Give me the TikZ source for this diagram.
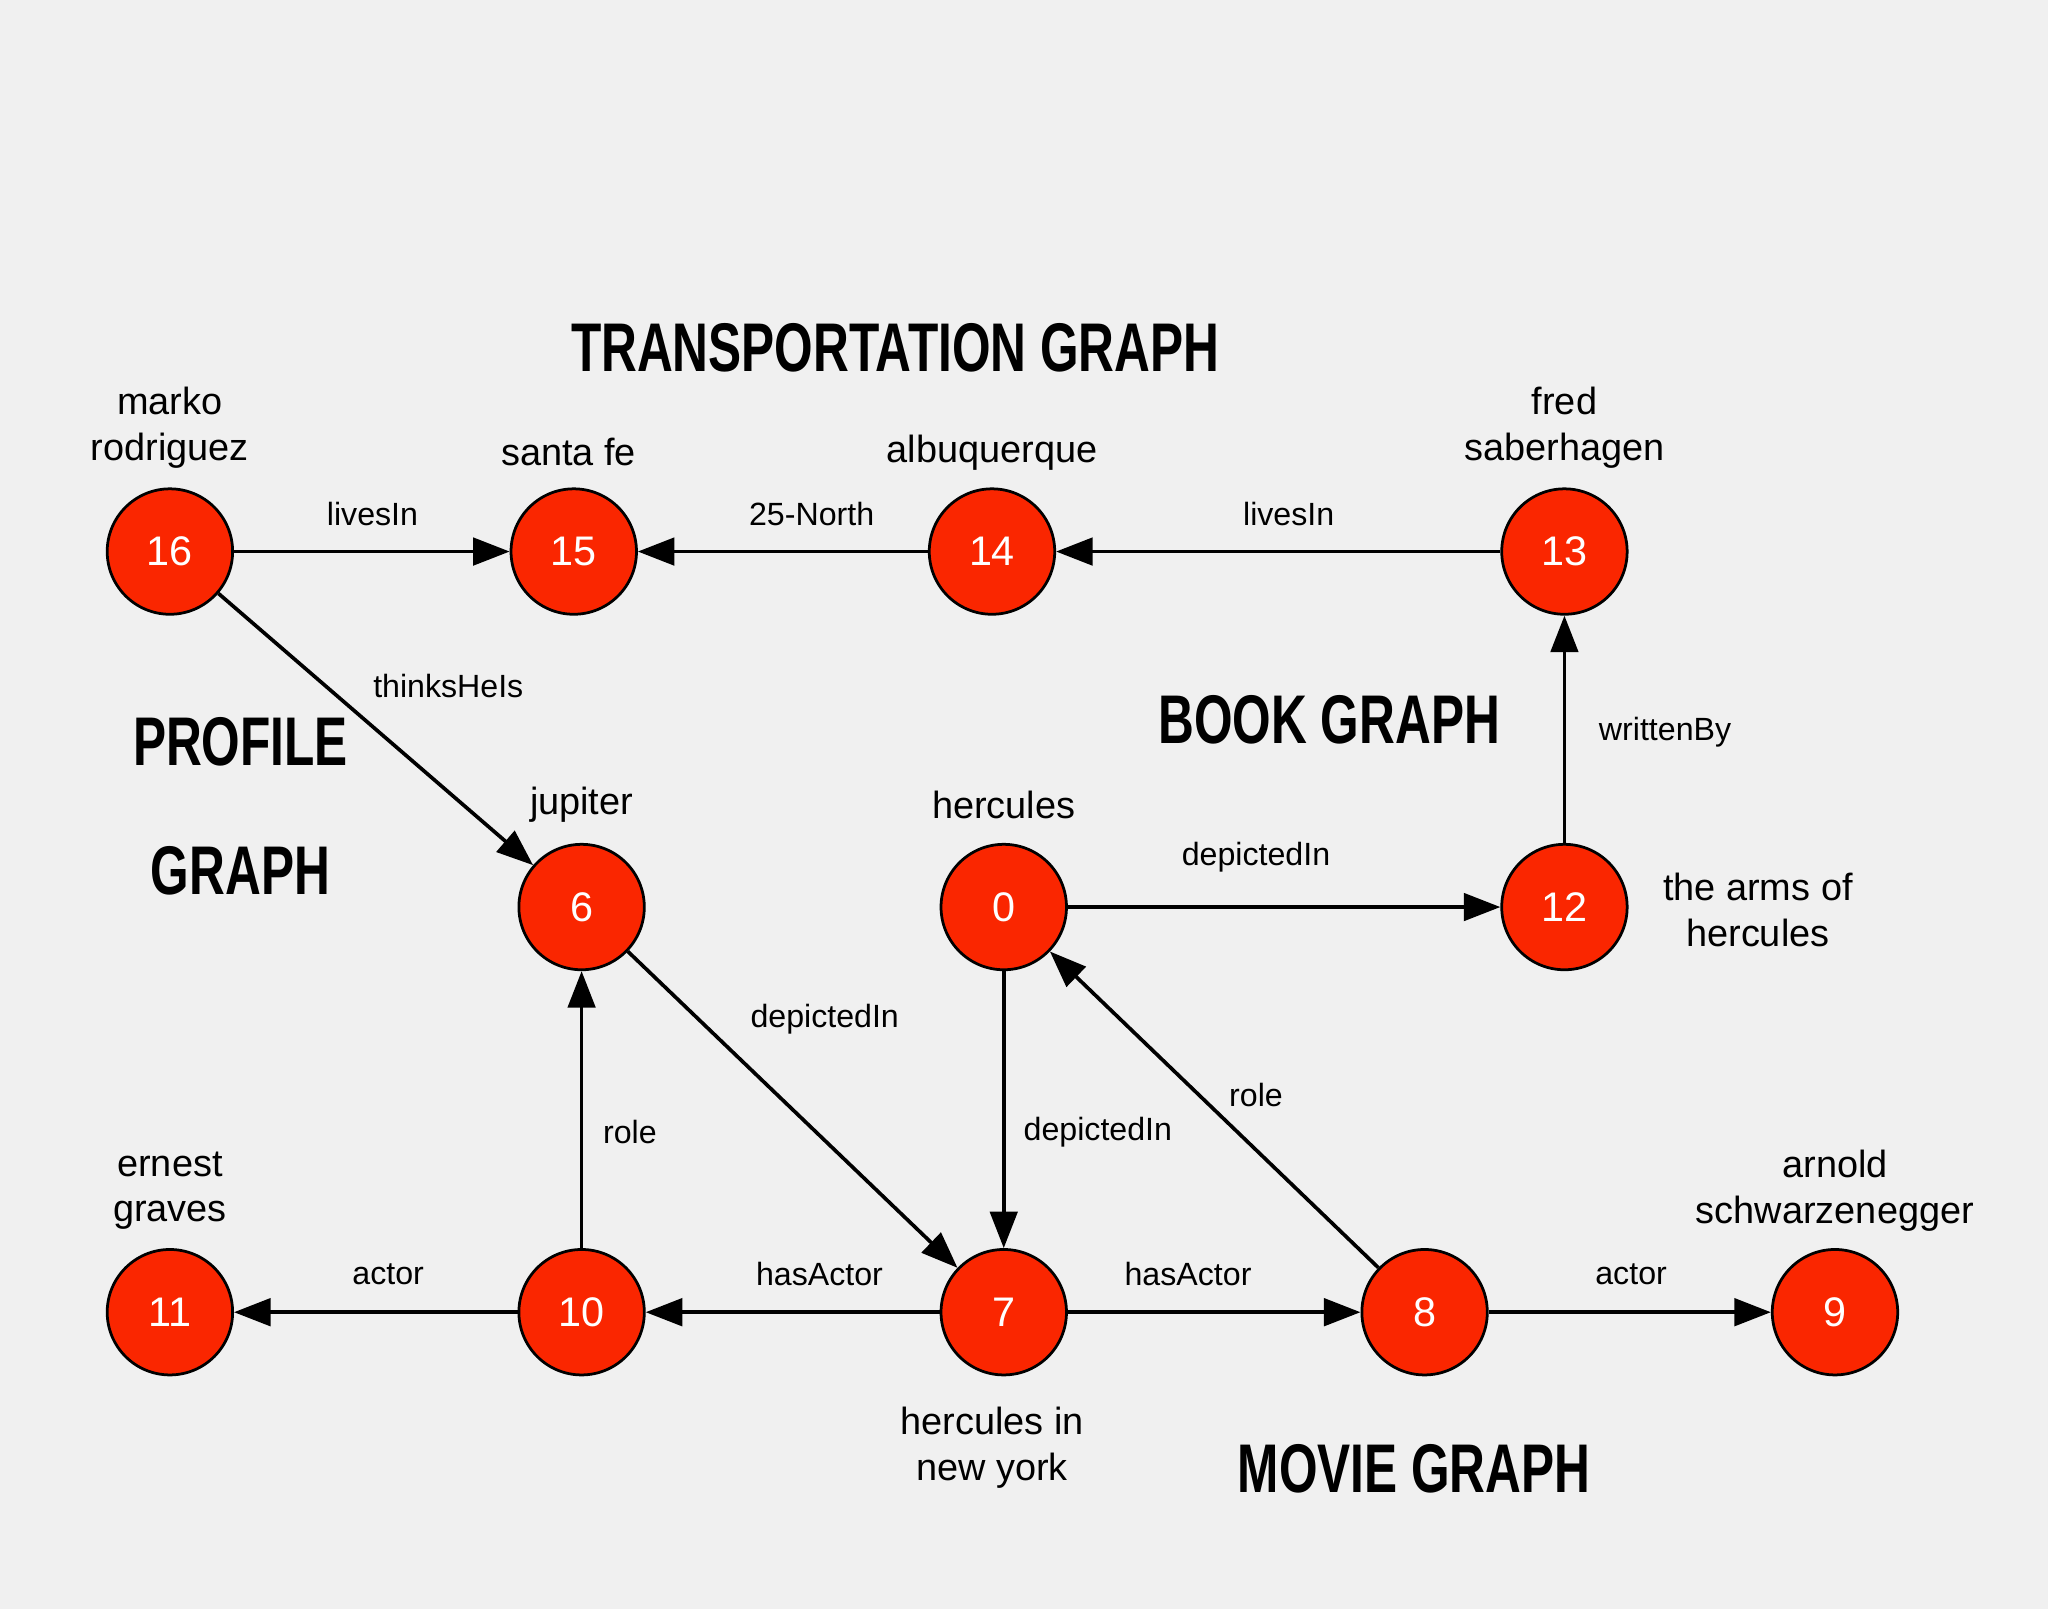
\documentclass[tikz,border=0pt]{standalone}
\usepackage{fontspec}
\setmainfont{Liberation Sans}
\usetikzlibrary{arrows.meta}
\definecolor{bg}{RGB}{240,240,240}
\definecolor{nred}{RGB}{250,38,0}
\tikzset{
 vtx/.style={circle,draw=black,line width=1.2pt,fill=nred,minimum size=1.92cm,inner sep=0pt,text=white,font=\fontsize{18}{18}\selectfont},
 lbl/.style={font=\fontsize{16.5}{20}\selectfont,align=center},
 elbl/.style={font=\fontsize{14}{16}\selectfont},
 ttl/.style={font=\fontsize{30}{32}\selectfont\bfseries,align=center},
 edge/.style={line width=1.6pt,-{Triangle[length=0.56cm,width=0.42cm]}}
}
\newcommand{\cond}[1]{\scalebox{0.72}[1]{#1}}
\begin{document}
\begin{tikzpicture}[x=0.02cm,y=-0.02cm]
\fill[bg] (0,0) rectangle (1567,1231);
\useasboundingbox (0,0) rectangle (1567,1231);
\node[vtx] (n16) at (130,422) {16};
\node[vtx] (n15) at (439,422) {15};
\node[vtx] (n14) at (759,422) {14};
\node[vtx] (n13) at (1197,422) {13};
\node[vtx] (n6) at (445,694) {6};
\node[vtx] (n0) at (768,694) {0};
\node[vtx] (n12) at (1197,694) {12};
\node[vtx] (n11) at (130,1004) {11};
\node[vtx] (n10) at (445,1004) {10};
\node[vtx] (n7) at (768,1004) {7};
\node[vtx] (n8) at (1090,1004) {8};
\node[vtx] (n9) at (1404,1004) {9};
% node labels
\node[lbl] (l16) at (130,327) {marko\\rodriguez};
\node[lbl] (l15) at (435,346) {santa fe};
\node[lbl] (l14) at (759,346) {albuquerque};
\node[lbl] (l13) at (1197,327) {fred\\saberhagen};
\node[lbl] (l6) at (445,616) {jupiter};
\node[lbl] (l0) at (768,616) {hercules};
\node[lbl] (l12) at (1345,696) {the arms of\\hercules};
\node[lbl] (l11) at (130,911) {ernest\\graves};
\node[lbl] (l9) at (1404,911) {arnold\\schwarzenegger};
\node[lbl] (l7) at (759,1108) {hercules in\\new york};
% titles
\node[ttl] (t1) at (685,266) {\cond{TRANSPORTATION GRAPH}};
\node[ttl,font=\fontsize{30}{56}\selectfont\bfseries] (t2) at (184,617) {\cond{PROFILE}\\\cond{GRAPH}};
\node[ttl] (t3) at (1017,551) {\cond{BOOK GRAPH}};
\node[ttl] (t4) at (1082,1124) {\cond{MOVIE GRAPH}};
% edges
\draw[edge] (n16) -- (n15);
\draw[edge] (n14) -- (n15);
\draw[edge] (n13) -- (n14);
\draw[edge] (n16) -- (n6);
\draw[edge] (n12) -- (n13);
\draw[edge] (n0) -- (n12);
\draw[edge] (n6) -- (n7);
\draw[edge] (n0) -- (n7);
\draw[edge] (n8) -- (n0);
\draw[edge] (n10) -- (n6);
\draw[edge] (n10) -- (n11);
\draw[edge] (n7) -- (n10);
\draw[edge] (n7) -- (n8);
\draw[edge] (n8) -- (n9);
% edge labels
\node[elbl] (e1) at (285,393) {livesIn};
\node[elbl] (e2) at (621,393) {25-North};
\node[elbl] (e3) at (986,393) {livesIn};
\node[elbl] (e4) at (343,525) {thinksHeIs};
\node[elbl] (e5) at (1274,560) {writtenBy};
\node[elbl] (e6) at (961,656) {depictedIn};
\node[elbl] (e7) at (631,780) {depictedIn};
\node[elbl] (e8) at (840,866) {depictedIn};
\node[elbl] (e9) at (961,838) {role};
\node[elbl] (e10) at (482,866) {role};
\node[elbl] (e11) at (297,975) {actor};
\node[elbl] (e12) at (627,975) {hasActor};
\node[elbl] (e13) at (909,975) {hasActor};
\node[elbl] (e14) at (1248,975) {actor};
\end{tikzpicture}
\end{document}
